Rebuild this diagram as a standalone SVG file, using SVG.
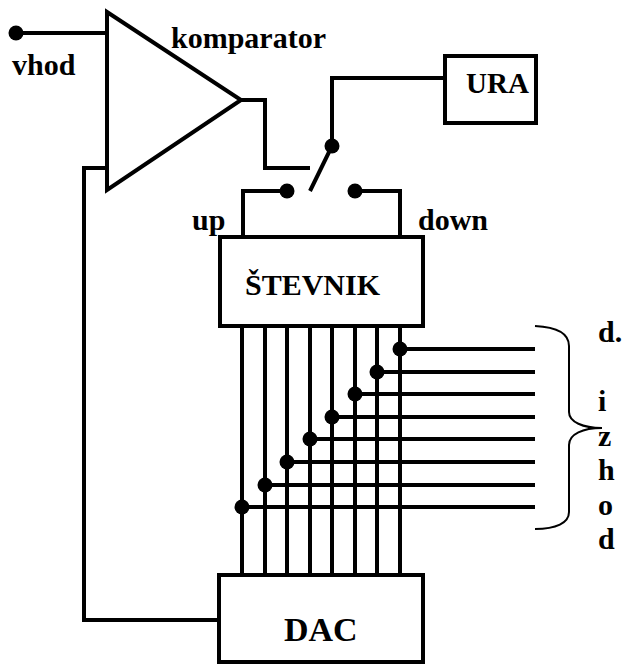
<svg xmlns="http://www.w3.org/2000/svg" width="624" height="664" viewBox="0 0 624 664">
<style>
.w{fill:none;stroke:#000;stroke-width:4}
.b{fill:none;stroke:#000;stroke-width:4}
.d{fill:#000}
.t{font-family:"Liberation Serif","Times New Roman",serif;font-weight:bold;font-size:30px;fill:#000}
.br{fill:none;stroke:#000;stroke-width:2}
</style>
<rect width="624" height="664" fill="#fff"/>
<g id="connectors">
<path class="w" d="M16 33H107"/>
<path class="w" d="M241 100H265V168H310"/>
<path class="w" d="M107 168H84V620H219"/>
<path class="w" d="M445 78H332V146L310 191"/>
<path class="w" d="M287 191H243V237"/>
<path class="w" d="M355 191H400V237"/>
<path class="w" d="M242 326V575M265 326V575M287 326V575M310 326V575M332 326V575M355 326V575M377 326V575M400 326V575"/>
<path class="w" d="M400 349H535M377 372H535M355 394H535M332 417H535M310 439H535M287 462H535M265 485H535M242 507H535"/>
<path class="br" d="M535 326C556 327 569 333 569 346V412C569 422 583 428 602 428C583 428 569 434 569 445V512C569 523 556 529 535 529"/>
<g class="d">
<circle cx="16" cy="33" r="7.5"/><circle cx="332" cy="146" r="7.5"/><circle cx="287" cy="191" r="7.5"/><circle cx="355" cy="191" r="7.5"/>
<circle cx="400" cy="349" r="7.5"/><circle cx="377" cy="372" r="7.5"/><circle cx="355" cy="394" r="7.5"/><circle cx="332" cy="417" r="7.5"/><circle cx="310" cy="439" r="7.5"/><circle cx="287" cy="462" r="7.5"/><circle cx="265" cy="485" r="7.5"/><circle cx="242" cy="507" r="7.5"/>
</g>
</g>
<g id="komparator">
<polygon class="b" points="107,12 241,100 107,190"/>
<text class="t" x="171" y="48">komparator</text>
</g>
<g id="vhod"><text class="t" x="12" y="75">vhod</text></g>
<g id="ura">
<rect class="b" x="445" y="56" width="91" height="67"/>
<text class="t" x="466" y="93" style="font-size:29px">URA</text>
</g>
<g id="stevnik">
<rect class="b" x="220" y="237" width="203" height="89"/>
<text class="t" x="245" y="295">ŠTEVNIK</text>
</g>
<g id="dac">
<rect class="b" x="219" y="575" width="204" height="87"/>
<text class="t" x="284" y="641" style="font-size:34px">DAC</text>
</g>
<g id="labels">
<text class="t" x="192" y="230">up</text>
<text class="t" x="418" y="230">down</text>
<text class="t" x="598" y="342">d.</text>
<text class="t" x="598" y="411">i</text>
<text class="t" x="598" y="446">z</text>
<text class="t" x="598" y="480">h</text>
<text class="t" x="598" y="515">o</text>
<text class="t" x="598" y="549">d</text>
</g>
</svg>
